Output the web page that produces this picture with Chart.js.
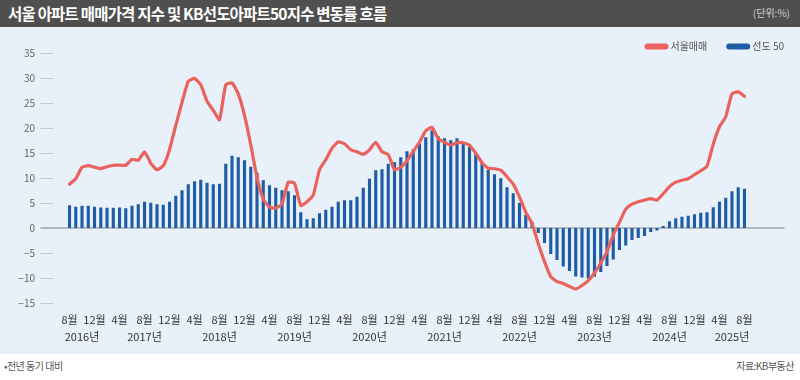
<!DOCTYPE html>
<html><head><meta charset="utf-8">
<script src="https://cdn.jsdelivr.net/npm/chart.js@4/dist/chart.umd.min.js"></script>
<style>
html,body{margin:0;padding:0;width:800px;height:380px;overflow:hidden;background:#fff;font-family:'Noto Sans CJK KR','Noto Sans',sans-serif;}
#title{position:absolute;left:0;top:0;width:800px;height:27px;background:#4f4f4f;z-index:2;}
#title .t{position:absolute;left:8px;top:2px;color:#fff;font-size:15.5px;font-weight:bold;letter-spacing:-0.8px;line-height:22px;white-space:nowrap;}
#title .u{position:absolute;right:10px;top:6px;color:#cfcfcf;font-size:10px;line-height:14px;}
#panel{position:absolute;left:0;top:27px;width:800px;height:327px;background:#e8f0fa;}
#wrap{position:absolute;left:0;top:16px;width:806px;height:338px;z-index:1;}
.foot{position:absolute;top:359px;font-size:10px;color:#555;line-height:14px;letter-spacing:-0.5px;}
</style></head>
<body>
<div id="title"><span class="t">서울 아파트 매매가격 지수 및 KB선도아파트50지수 변동률 흐름</span><span class="u">(단위:%)</span></div>
<div id="panel"></div>
<div id="wrap"><canvas id="c" width="806" height="338"></canvas></div>
<div class="foot" style="left:4px;">•전년 동기 대비</div>
<div class="foot" style="right:6px;">자료:KB부동산</div>
<script>
const months = [
 '2016.08','2016.09','2016.10','2016.11','2016.12',
 '2017.01','2017.02','2017.03','2017.04','2017.05','2017.06','2017.07','2017.08','2017.09','2017.10','2017.11','2017.12',
 '2018.01','2018.02','2018.03','2018.04','2018.05','2018.06','2018.07','2018.08','2018.09','2018.10','2018.11','2018.12',
 '2019.01','2019.02','2019.03','2019.04','2019.05','2019.06','2019.07','2019.08','2019.09','2019.10','2019.11','2019.12',
 '2020.01','2020.02','2020.03','2020.04','2020.05','2020.06','2020.07','2020.08','2020.09','2020.10','2020.11','2020.12',
 '2021.01','2021.02','2021.03','2021.04','2021.05','2021.06','2021.07','2021.08','2021.09','2021.10','2021.11','2021.12',
 '2022.01','2022.02','2022.03','2022.04','2022.05','2022.06','2022.07','2022.08','2022.09','2022.10','2022.11','2022.12',
 '2023.01','2023.02','2023.03','2023.04','2023.05','2023.06','2023.07','2023.08','2023.09','2023.10','2023.11','2023.12',
 '2024.01','2024.02','2024.03','2024.04','2024.05','2024.06','2024.07','2024.08','2024.09','2024.10','2024.11','2024.12',
 '2025.01','2025.02','2025.03','2025.04','2025.05','2025.06','2025.07','2025.08'
];

// 서울매매 (전년 동기 대비 %)
const seoulSales = [
 8.8, 9.9, 12.2, 12.5, 12.2,
 11.9, 12.3, 12.6, 12.6, 12.6, 13.8, 13.6, 15.3, 13.0, 11.7, 12.5, 15.7,
 20.6, 25.2, 29.4, 30.0, 28.7, 25.4, 23.6, 21.7, 28.7, 29.1, 26.9, 22.6,
 16.7, 10.1, 5.8, 4.2, 4.0, 4.8, 9.2, 9.0, 4.5, 5.3, 6.6, 11.7,
 13.7, 16.0, 17.3, 16.9, 15.7, 15.3, 14.8, 15.7, 17.2, 15.3, 14.7, 11.7,
 12.2, 13.5, 15.4, 17.2, 19.5, 20.2, 17.9, 17.2, 16.6, 17.1, 17.1, 16.6,
 15.0, 13.1, 12.0, 11.9, 11.6, 10.3, 8.8, 6.2, 3.2, 0.9, -3.1, -6.7,
 -9.7, -10.7, -11.1, -11.7, -12.2, -11.5, -10.5, -9.0, -7.0, -4.7, -1.4, 1.2,
 3.8, 4.8, 5.3, 5.6, 5.9, 5.6, 6.9, 8.3, 9.2, 9.6, 9.9, 10.7,
 11.5, 12.4, 16.8, 20.3, 22.3, 26.9, 27.3, 26.4
];

// 선도 50 (KB선도아파트50지수, 전년 동기 대비 %)
const kbLeading50 = [
 4.6, 4.3, 4.5, 4.5, 4.3,
 4.15, 4.1, 4.1, 4.15, 4.0, 4.5, 4.8, 5.3, 5.1, 4.8, 4.7, 5.3,
 6.5, 7.6, 8.8, 9.4, 9.7, 9.1, 8.8, 8.9, 12.9, 14.5, 14.2, 13.6,
 12.3, 11.1, 9.6, 8.6, 8.1, 7.6, 7.4, 6.6, 3.2, 1.8, 2.0, 3.0,
 3.7, 4.3, 5.3, 5.6, 5.6, 6.3, 8.1, 9.9, 11.6, 11.8, 12.9, 13.2,
 14.2, 15.4, 15.8, 16.9, 18.2, 19.6, 18.4, 18.0, 17.6, 18.0, 16.9, 16.3,
 14.8, 13.0, 11.7, 10.8, 10.0, 8.2, 7.0, 5.1, 2.7, 1.3, -1.0, -3.0,
 -5.2, -6.4, -7.7, -8.6, -9.7, -9.9, -10.1, -9.7, -8.8, -7.6, -6.3, -4.4,
 -3.5, -2.4, -2.0, -1.6, -0.8, -0.5, 0.4, 1.4, 2.0, 2.3, 2.5, 2.8,
 3.1, 3.2, 4.2, 5.3, 6.1, 7.4, 8.2, 7.9
];

const tickEvery = 4;
const tickLabels = ['8월','12월',
 '4월','8월','12월', '4월','8월','12월', '4월','8월','12월', '4월','8월','12월',
 '4월','8월','12월', '4월','8월','12월', '4월','8월','12월', '4월','8월','12월',
 '4월','8월'];
const yearLabels = ['2016년','2017년','2018년','2019년','2020년','2021년','2022년','2023년','2024년','2025년'];
const seriesNames = ['서울매매', '선도 50'];

const RED = '#ea625b';
const BLUE = '#1f5ca6';

// year label sits in the middle of that year's labelled ticks
const yearAt = {};
yearLabels.forEach(yl => {
  const yr = yl.slice(0, 4);
  const idx = [];
  months.forEach((m, i) => { if (i % tickEvery === 0 && m.startsWith(yr)) idx.push(i); });
  if (idx.length) yearAt[Math.round((idx[0] + idx[idx.length - 1]) / 2)] = yl;
});

Chart.defaults.font.family = "'Noto Sans CJK KR','Noto Sans',sans-serif";

const axisDecor = {
  id: 'axisDecor',
  beforeDatasetsDraw(chart) {
    const {ctx, chartArea, scales} = chart;
    const y = scales.y;
    ctx.save();
    ctx.lineWidth = 1;
    ctx.strokeStyle = '#c4c9d1';
    y.ticks.forEach(t => {
      const py = Math.round(y.getPixelForValue(t.value)) + 0.5;
      ctx.beginPath();
      ctx.moveTo(chartArea.left - 26, py);
      ctx.lineTo(chartArea.left - 13, py);
      ctx.stroke();
    });
    const z = y.getPixelForValue(0);
    ctx.strokeStyle = '#a3a7ad';
    ctx.lineWidth = 1.5;
    ctx.beginPath();
    ctx.moveTo(chartArea.left - 26, z);
    ctx.lineTo(chartArea.right + 37, z);
    ctx.stroke();
    ctx.restore();
  }
};

new Chart(document.getElementById('c'), {
  type: 'bar',
  data: {
    labels: months,
    datasets: [
      {
        type: 'line',
        label: seriesNames[0],
        data: seoulSales,
        borderColor: RED,
        backgroundColor: RED,
        borderWidth: 3.2,
        pointRadius: 0,
        tension: 0.15,
        borderJoinStyle: 'round',
        borderCapStyle: 'round',
        order: 0
      },
      {
        type: 'bar',
        label: seriesNames[1],
        data: kbLeading50,
        backgroundColor: BLUE,
        borderWidth: 0,
        barPercentage: 0.5,
        categoryPercentage: 1.0,
        order: 1
      }
    ]
  },
  options: {
    responsive: false,
    animation: false,
    layout: { padding: 0 },
    plugins: {
      tooltip: { enabled: false },
      legend: {
        position: 'top',
        align: 'end',
        maxHeight: 34,
        labels: {
          usePointStyle: true,
          pointStyleWidth: 18,
          padding: 22,
          color: '#555',
          font: { size: 10 },
          generateLabels: (chart) => chart.data.datasets.map((ds, i) => ({
            text: ds.label,
            fillStyle: i === 0 ? RED : BLUE,
            strokeStyle: i === 0 ? RED : BLUE,
            lineWidth: 6,
            lineCap: 'round',
            pointStyle: 'line',
            hidden: false,
            datasetIndex: i,
            fontColor: '#555'
          }))
        }
      }
    },
    scales: {
      x: {
        type: 'category',
        position: 'bottom',
        offset: true,
        weight: 0,
        grid: { display: false, drawTicks: false },
        border: { display: false },
        ticks: {
          autoSkip: false, maxRotation: 0, minRotation: 0, padding: 10,
          color: '#333', font: { size: 11 },
          callback: (v, i) => (i % tickEvery === 0 ? tickLabels[i / tickEvery] : '')
        },
        afterFit: (s) => { s.height = 26; }
      },
      x2: {
        type: 'category',
        position: 'bottom',
        offset: true,
        weight: 1,
        grid: { display: false, drawTicks: false },
        border: { display: false },
        ticks: {
          autoSkip: false, maxRotation: 0, minRotation: 0, padding: 1,
          color: '#333', font: { size: 11 },
          callback: (v, i) => yearAt[i] || ''
        },
        afterFit: (s) => { s.height = 25; }
      },
      y: {
        position: 'left',
        min: -15,
        max: 35,
        grid: { display: false, drawTicks: false },
        border: { display: false },
        ticks: {
          stepSize: 5, padding: 31.4, color: '#666', font: { size: 10 },
          callback: (v) => String(v).replace('-', '\u2212')
        },
        afterFit: (s) => { s.width = 66.4; }
      },
      yR: {
        position: 'right',
        display: true,
        grid: { display: false, drawTicks: false },
        border: { display: false },
        ticks: { display: false },
        afterFit: (s) => { s.width = 58.4; }
      }
    }
  },
  plugins: [axisDecor]
});
</script>
</body></html>
